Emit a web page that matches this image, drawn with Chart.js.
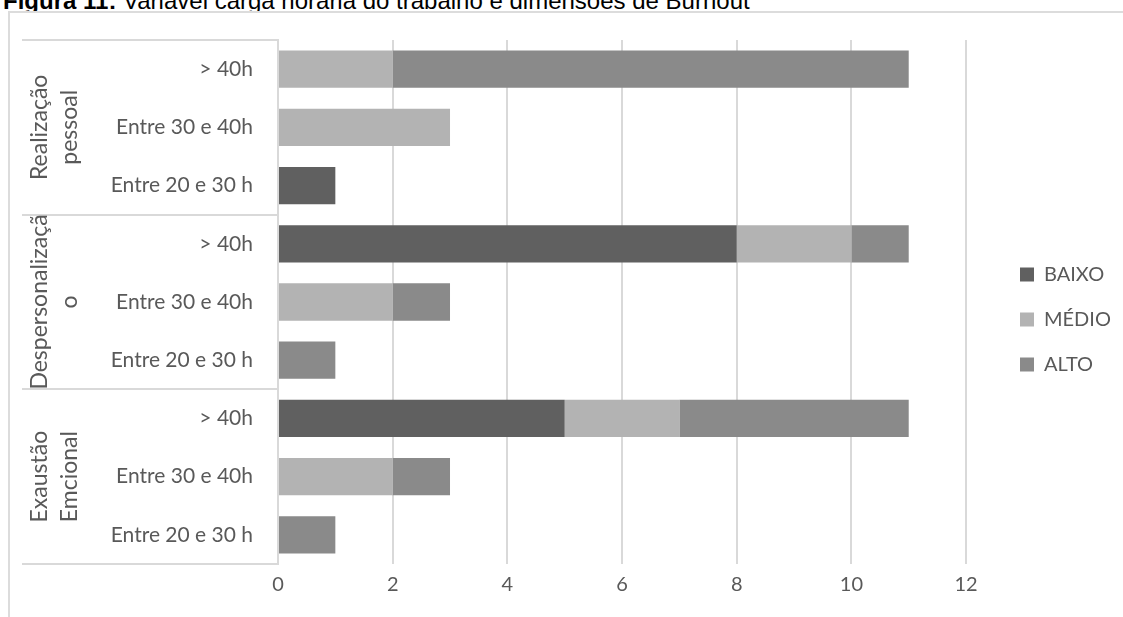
<!DOCTYPE html>
<html>
<head>
<meta charset="utf-8">
<script src="https://cdn.jsdelivr.net/npm/chart.js@4.4.1/dist/chart.umd.min.js"></script>
<style>
    html, body { margin: 0; padding: 0; background: #fff; overflow: hidden; }
    #wrap { position: relative; width: 1123px; height: 617px; }
    #title {
        position: absolute; left: 3px; top: -13px;
        font-family: "Liberation Sans", Arial, sans-serif; font-size: 24px; color: #000;
        white-space: nowrap;
    }
    #frame {
        position: absolute; left: 8px; top: 11px; width: 1130px; height: 620px;
        border: 2px solid #dcdcdc; box-sizing: border-box; background: #fff;
    }
    canvas { position: absolute; left: 0; top: 0; }
</style>
</head>
<body>
<div id="wrap">
    <div id="title"><b>Figura 11:</b> Variável carga horária do trabalho e dimensões de Burnout</div>
    <div id="frame"></div>
    <canvas id="chart" width="1123" height="617"></canvas>
</div>
<script>
// rows from top to bottom
const categories = [
    '> 40h', 'Entre 30 e 40h', 'Entre 20 e 30 h',
    '> 40h', 'Entre 30 e 40h', 'Entre 20 e 30 h',
    '> 40h', 'Entre 30 e 40h', 'Entre 20 e 30 h',
];
const groups = [
    ['Realização', 'pessoal'],
    ['Despersonalizaçã', 'o'],
    ['Exaustão', 'Emcional'],
];
const groupSize = 3;

const baixo = [0, 0, 1, 8, 0, 0, 5, 0, 0];
const medio = [2, 3, 0, 2, 2, 0, 2, 2, 0];
const alto = [9, 0, 0, 1, 1, 1, 4, 1, 1];

const xTicks = [0, 2, 4, 6, 8, 10, 12];

const FONT = 'Lato';
const TEXT = '#595959';
const LINE = '#d9d9d9';

// hierarchical category axis (group labels + separators)
const groupAxis = {
    id: 'groupAxis',
    afterDraw(chart) {
        const { ctx } = chart;
        const y = chart.scales.y;
        const left = 22;
        const right = chart.chartArea.left;
        ctx.save();
        ctx.strokeStyle = LINE;
        ctx.lineWidth = 2;
        for (let g = 0; g <= groups.length; g++) {
            const py = Math.round(y.getPixelForValue(g * groupSize - 0.5));
            ctx.beginPath();
            ctx.moveTo(left, py);
            ctx.lineTo(right, py);
            ctx.stroke();
        }
        ctx.fillStyle = TEXT;
        ctx.font = `23px ${FONT}`;
        ctx.textAlign = 'center';
        ctx.textBaseline = 'middle';
        groups.forEach((lines, g) => {
            const y0 = y.getPixelForValue(g * groupSize - 0.5);
            const y1 = y.getPixelForValue((g + 1) * groupSize - 0.5);
            const cy = (y0 + y1) / 2;
            lines.forEach((txt, i) => {
                ctx.save();
                ctx.translate(40 + i * 30, cy);
                ctx.rotate(-Math.PI / 2);
                ctx.fillText(txt, 0, 0);
                ctx.restore();
            });
        });
        ctx.restore();
    }
};

// move the legend to where the original has it
const legendPlace = {
    id: 'legendPlace',
    afterLayout(chart) {
        const lg = chart.legend;
        const dx = 1020 - (lg.left + lg.options.labels.padding);
        const dy = -9;
        lg.left += dx;
        lg.right += dx;
        lg.top += dy;
        lg.bottom += dy;
    }
};

Chart.register(groupAxis, legendPlace);

new Chart(document.getElementById('chart'), {
    type: 'bar',
    data: {
        labels: categories,
        datasets: [
            { label: 'BAIXO', data: baixo, backgroundColor: '#606060' },
            { label: 'MÉDIO', data: medio, backgroundColor: '#b3b3b3' },
            { label: 'ALTO', data: alto, backgroundColor: '#8a8a8a' },
        ]
    },
    options: {
        indexAxis: 'y',
        responsive: false,
        animation: false,
        datasets: { bar: { barPercentage: 0.8, categoryPercentage: 0.8 } },
        layout: { padding: { top: 40, right: 31, bottom: 0, left: 0 } },
        plugins: {
            tooltip: { enabled: false },
            legend: {
                position: 'right',
                labels: {
                    font: { family: FONT, size: 20 },
                    color: TEXT,
                    boxWidth: 14,
                    boxHeight: 14,
                    padding: 25,
                },
            },
        },
        scales: {
            x: {
                stacked: true,
                min: 0,
                max: 12,
                afterBuildTicks: (scale) => {
                    scale.ticks = xTicks.map((v) => ({ value: v }));
                },
                afterFit: (scale) => { scale.height = 53; },
                grid: { color: LINE, lineWidth: 2, drawTicks: false },
                border: { display: false },
                ticks: { font: { family: FONT, size: 20 }, color: TEXT, padding: 9 },
            },
            y: {
                stacked: true,
                afterFit: (scale) => { scale.width = 278; },
                grid: { display: false, drawTicks: false },
                border: { display: true, color: LINE, width: 2 },
                ticks: { font: { family: FONT, size: 21 }, color: TEXT, padding: 25, autoSkip: false },
            },
        }
    }
});
</script>
</body>
</html>
